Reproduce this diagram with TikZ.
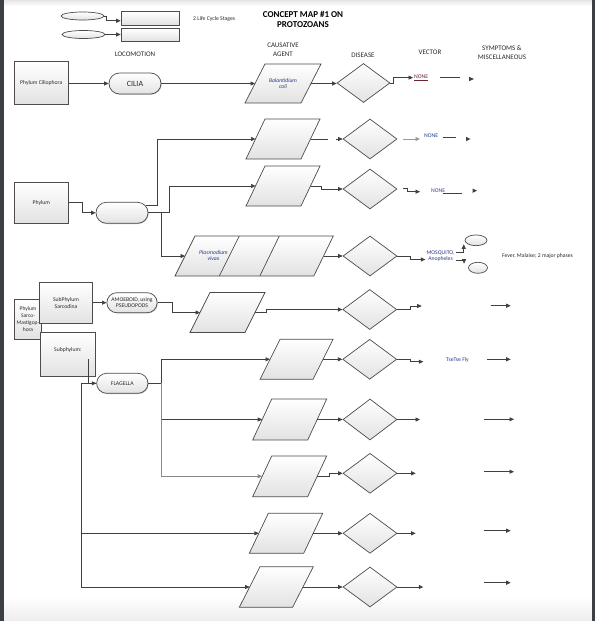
\documentclass[tikz,border=0pt]{standalone}
\usepackage{fontspec}
\setmainfont{Carlito}
\usetikzlibrary{arrows.meta,shapes.geometric,shapes.misc,shadows,calc}
\definecolor{linec}{HTML}{404040}
\definecolor{edgec}{HTML}{4C4C4C}
\definecolor{fillb}{HTML}{E2E2E2}
\definecolor{txt}{HTML}{2A2A2A}
\definecolor{navy}{HTML}{2B3A86}
\definecolor{maroon}{HTML}{6B2430}
\definecolor{purp}{HTML}{4A3A8C}
\definecolor{frame}{HTML}{3C3F44}
\definecolor{lgray}{HTML}{9A9A9A}
\newcommand\labfont{\fontsize{5.7}{6.6}\selectfont}
\newcommand\hdfont{\fontsize{7}{9}\selectfont}
\newcommand\para[7]{% name, cx, cy, top width, slant, height, text
  \path[shp] ({#2-(#4+#5)/2},{#3+#6/2}) -- ++(#5,-#6) -- ++(#4,0) -- ++(-#5,#6) -- cycle;
  \node[paratext, minimum width=#4pt, minimum height=#6pt] (#1) at (#2,#3) {#7};
  \coordinate (#1-in) at ({#2-#4/2},#3);
  \coordinate (#1-out) at ({#2+#4/2},#3);
}
\tikzset{
  conn/.style={draw=linec, line width=0.7pt},
  arr/.style={conn, -{Triangle[length=4.5pt,width=4pt]}},
  shp/.style={draw=edgec, line width=0.7pt, top color=white, bottom color=fillb},
  shad/.style={drop shadow={shadow xshift=0.7pt, shadow yshift=-0.7pt, fill=black, opacity=0.25}},
  boxnode/.style={shp, shad, rectangle, inner sep=1pt, align=center, font=\labfont, text=txt},
  term/.style={shp, shad, rounded rectangle, inner sep=1pt, align=center, font=\labfont, text=txt},
  dia/.style={shp, diamond, inner sep=0pt, minimum width=54pt, minimum height=40pt},
  ell/.style={shp, ellipse, inner sep=0pt},
  lbl/.style={inner sep=1pt, align=center, font=\labfont, text=txt},
  hdr/.style={inner sep=0pt, align=center, font=\hdfont, text=txt},
  paratext/.style={inner sep=0pt, align=center, font=\labfont\itshape, text=navy},
}
\begin{document}
\begin{tikzpicture}[x=1pt,y=-1pt]
\useasboundingbox (0,0) rectangle (595,621);
\fill[white] (0,0) rectangle (595,621);
\shade[top color=black!10, bottom color=white] (0,0) rectangle (595,6);
\shade[top color=white, bottom color=black!7] (0,596) rectangle (595,621);
\fill[frame] (0,0) rectangle (4,621);
\fill[frame] (591.5,0) rectangle (595,621);

% ---------- legend ----------
\node[ell, minimum width=43pt, minimum height=8pt] (e1) at (82.5,16) {};
\node[ell, minimum width=43pt, minimum height=8pt] (e2) at (83.5,34.5) {};
\node[boxnode, minimum width=58pt, minimum height=13.3pt] (r1) at (150,18.3) {};
\node[boxnode, minimum width=58pt, minimum height=12.7pt] (r2) at (150,34.7) {};
\draw[arr] (e1.east) -- (106,16) |- ([yshift=-2.5pt]r1.west);
\draw[arr] (e2.east) -- (e2.east -| r2.west);
\node[lbl, anchor=west] (lcs) at (192,19) {2 Life Cycle Stages};

% ---------- titles ----------
\node[inner sep=0pt, align=center, font=\bfseries\fontsize{9}{10}\selectfont, text=black] (title) at (303,19.3) {CONCEPT MAP \#1 ON\\PROTOZOANS};
\node[hdr] (hloc) at (135,54) {LOCOMOTION};
\node[hdr] (hcau) at (283,49.7) {CAUSATIVE\\AGENT};
\node[hdr] (hdis) at (363,55.7) {DISEASE};
\node[hdr] (hvec) at (430,52.7) {VECTOR};
\node[hdr] (hsym) at (502,52.7) {SYMPTOMS \&\\MISCELLANEOUS};

% ---------- row 1 : Ciliophora ----------
\node[boxnode, minimum width=54pt, minimum height=43pt] (b1) at (41.3,83) {Phylum Ciliophora};
\node[term, minimum width=54pt, minimum height=21pt, font=\fontsize{8}{9}\selectfont] (t1) at (135,83.5) {CILIA};
\para{p1}{283}{83.5}{56}{20}{39}{Balantidium\\coli}
\node[dia, minimum width=53pt, minimum height=39pt] (d1) at (363.5,83) {};
\draw[arr] (b1.east) -- ++(13.5,0) |- (t1.west);
\draw[arr] (t1.east) -- (p1-in);
\draw[arr] (p1-out) -- (p1-out -| d1.west);
\node[lbl, anchor=west, text=maroon] (n1) at (413,77.6) {\underline{NONE}};
\draw[arr] (d1.east) -- ++(3,0) |- (n1.west);
\coordinate (s1a) at (440,77.7);
\coordinate (s1b) at (460,77.7);
\draw[conn] (s1a) -- (s1b);
\fill[linec] (469,76.8) -- (474,79) -- (469,81.2) -- cycle;

% ---------- Phylum (rows 2-4) ----------
\node[boxnode, minimum width=54pt, minimum height=41pt] (b2) at (41.3,202.8) {Phylum};
\node[term, minimum width=54pt, minimum height=21pt] (t2) at (122,212.8) {};
\draw[arr] (b2.east) -- ++(13.4,0) |- (t2.west);

% row 2
\para{p2}{283}{139}{55}{19}{40}{}
\node[dia] (d2) at (370,139) {};
\draw[arr] ([xshift=-2.2pt,yshift=7pt]t2.east) -- (157.3,205.8) |- (p2-in);
\coordinate (g2a) at (328,139);
\coordinate (g2b) at (336,139);
\draw[conn] (p2-out) -- (g2a);
\draw[arr] (g2b) -- (d2.west);
\coordinate (v2) at (420,139);
\draw[conn, draw=lgray, -{Triangle[length=4.5pt,width=4pt]}] ([xshift=6pt]d2.east) -- (v2);
\node[lbl, anchor=west, text=navy] (n2) at (423,135.6) {NONE};
\coordinate (s2a) at (443,137.7);
\coordinate (s2b) at (455.7,137.7);
\draw[conn] (s2a) -- (s2b);
\fill[linec] (466,136.8) -- (470.5,139) -- (466,141.2) -- cycle;

% row 3
\para{p3}{283}{186}{55}{19}{40}{}
\node[dia] (d3) at (370,189) {};
\draw[arr] (t2.east) -- (169,212.8) |- (p3-in);
\draw[arr] (p3-out) -- (321.7,186) |- (d3.west);
\coordinate (v3) at (420,191.7);
\draw[arr] ([xshift=6pt,yshift=0.7pt]d3.east) -- ++(4,0) |- (v3);
\node[lbl, anchor=west, text=purp] (n3) at (430,190.3) {NONE};
\coordinate (s3a) at (443,193.3);
\coordinate (s3b) at (462,193.3);
\draw[conn] (s3a) -- (s3b);
\fill[linec] (472.5,188.5) -- (477,190.7) -- (472.5,192.9) -- cycle;

% row 4 : Plasmodium
\path[shp] (175,276) -- (195,236) -- (333.3,236) -- (313.8,276) -- cycle;
\draw[draw=edgec, line width=0.7pt] (239.3,236) -- (219.3,276) (279.3,236) -- (259.8,276);
\node[paratext] (p4) at (213.5,255.5) {Plasmodium\\vivax};
\coordinate (p4-in) at (185,256);
\coordinate (p4-out) at (323.5,256);
\node[dia] (d4) at (370,256) {};
\draw[arr] (161.7,212.8) |- (p4-in);
\draw[arr] (p4-out) -- (d4.west);
\node[lbl, text=navy] (mosq) at (440.5,256.3) {MOSQUITO,\\Anopheles};
\draw[arr] (d4.east) -- (410,256) |- ([yshift=-3.2pt]mosq.west);
\node[ell, minimum width=22pt, minimum height=10.7pt] (el1) at (476,240.3) {};
\node[ell, minimum width=19pt, minimum height=11pt] (el2) at (478,267.8) {};
\draw[arr] ([yshift=3.6pt]mosq.east) -| ([xshift=-4.2pt]el1.south west);
\draw[arr] ([yshift=-3.6pt]mosq.east) -| ([xshift=-7pt]el2.north west);
\node[lbl] (fever) at (537.5,255.7) {Fever, Malaise; 2 major phases};

% ---------- Sarco-Mastigophora ----------
\node[boxnode, minimum width=27.4pt, minimum height=40pt, font=\fontsize{5.5}{7.2}\selectfont] (b3) at (28,319.3) {Phylum\\Sarco-\\Mastigop-\\hora};
\node[boxnode, minimum width=53.4pt, minimum height=40.6pt] (b4) at (66,303) {SubPhylum\\Sarcodina};
\node[boxnode, minimum width=54.3pt, minimum height=44.4pt] (b5) at (67.9,354.5) {\raisebox{4.5pt}[\height][\depth]{Subphylum:}};

% row 5 : Sarcodina
\node[term, minimum width=52.3pt, minimum height=20pt] (t3) at (132,302.7) {AMOEBOID, using\\PSEUDOPODS};
\para{p5}{227.5}{312.5}{55}{20}{40}{}
\node[dia] (d5) at (369.7,309.5) {};
\draw[arr] (b4.east |- t3.west) -- (t3.west);
\draw[arr] (t3.east) -- (172.3,302.7) |- (p5-in);
\draw[arr] (p5-out) -- (266,312.5) |- (d5.west);
\coordinate (v5) at (421.7,306);
\draw[arr] (d5.east) -- (410,309.5) |- (v5);
\coordinate (w5a) at (490.7,305.7);
\coordinate (w5b) at (510.7,305.7);
\draw[arr] (w5a) -- (w5b);

% FLAGELLA
\node[term, minimum width=53.3pt, minimum height=20pt] (t4) at (122.3,383.3) {FLAGELLA};
\coordinate (j1) at (81.7,383.3);
\coordinate (f1) at (161.7,383.3);
\draw[conn] (j1) -- (t4.west);
\draw[arr] ([xshift=20.4pt,yshift=-4.8pt]b5.center) |- (t4.west);

% row 6
\para{p6}{296.5}{359.3}{53}{20}{40}{}
\node[dia] (d6) at (369.7,359.3) {};
\draw[arr] (t4.east) -- (f1) |- (p6-in);
\draw[arr] (p6-out) -- (d6.west);
\coordinate (v6) at (423.3,361.7);
\draw[arr] (d6.east) -- (410,359.3) |- (v6);
\node[lbl, text=navy] (tse) at (457.5,360) {TseTse Fly};
\coordinate (w6a) at (487.3,359.3);
\coordinate (w6b) at (510.7,359.3);
\draw[arr] (w6a) -- (w6b);

% row 7
\para{p7}{289.7}{419.5}{55}{19}{41}{}
\node[dia, minimum height=41pt] (d7) at (370,419.5) {};
\draw[arr] (f1 |- p7-in) -- (p7-in);
\draw[arr] (p7-out) -- (d7.west);
\coordinate (v7) at (420,419.5);
\draw[arr] (d7.east) -- (v7);
\coordinate (w7a) at (484,419.3);
\coordinate (w7b) at (514,419.3);
\draw[arr] (w7a) -- (w7b);

% row 8
\para{p8}{289.7}{476.3}{55}{19}{40.7}{}
\node[dia] (d8) at (370,473.3) {};
\draw[arr, draw=lgray!80!linec] (f1) |- (p8-in);
\draw[arr] (p8-out) -- (329.3,476.3) |- (d8.west);
\coordinate (v8) at (415.7,473.3);
\draw[arr] (d8.east) -- (v8);
\coordinate (w8a) at (484,471.7);
\coordinate (w8b) at (514,471.7);
\draw[arr] (w8a) -- (w8b);

% row 9
\para{p9}{286}{533.3}{54.4}{19}{40}{}
\node[dia] (d9) at (370,533.3) {};
\draw[arr] (j1 |- p9-in) -- (p9-in);
\draw[arr] (p9-out) -- (d9.west);
\coordinate (v9) at (415.7,533.3);
\draw[arr] (d9.east) -- (v9);
\coordinate (w9a) at (484,530.7);
\coordinate (w9b) at (510.7,530.7);
\draw[arr] (w9a) -- (w9b);

% row 10
\para{p10}{276.3}{587}{53.3}{20.7}{40.6}{}
\node[dia] (d10) at (370,587) {};
\draw[arr] (j1) |- (p10-in);
\draw[arr] (p10-out) -- (d10.west);
\coordinate (v10) at (423.3,587);
\draw[arr] (d10.east) -- (v10);
\coordinate (w10a) at (484,582.7);
\coordinate (w10b) at (510.7,582.7);
\draw[arr] (w10a) -- (w10b);
\end{tikzpicture}
\end{document}
